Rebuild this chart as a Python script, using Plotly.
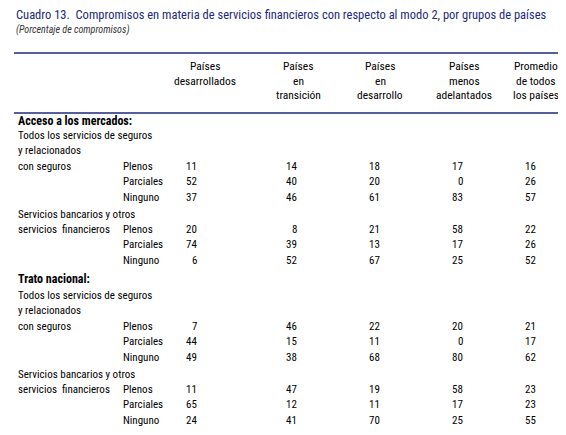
import plotly.graph_objects as go

title = "Cuadro 13.  Compromisos en materia de servicios financieros con respecto al modo 2, por grupos de países"
subtitle = "(Porcentaje de compromisos)"
headers = [["Países", "desarrollados"], ["Países", "en", "transición"], ["Países", "en", "desarrollo"],
           ["Países", "menos", "adelantados"], ["Promedio", "de todos", "los países"]]
levels = ["Plenos", "Parciales", "Ninguno"]
am_seguros = [[11, 14, 18, 17, 16], [52, 40, 20, 0, 26], [37, 46, 61, 83, 57]]
am_bancarios = [[20, 8, 21, 58, 22], [74, 39, 13, 17, 26], [6, 52, 67, 25, 52]]
tn_seguros = [[7, 46, 22, 20, 21], [44, 15, 11, 0, 17], [49, 38, 68, 80, 62]]
tn_bancarios = [[11, 47, 19, 58, 23], [65, 12, 11, 17, 23], [24, 41, 70, 25, 55]]

W, H = 566, 435
FONT = "Liberation Sans Narrow, Roboto Condensed, Liberation Sans, sans-serif"
BLUE = "#1d2a7a"
DY = -7
fig = go.Figure()
fig.update_xaxes(visible=False, range=[0, W])
fig.update_yaxes(visible=False, range=[H, 0])

def txt(x, y, s, anchor="left", size=11, color="black"):
    fig.add_annotation(x=x, y=y + DY, text=s, showarrow=False, xanchor=anchor, yanchor="middle",
                       font=dict(family=FONT, size=size, color=color), xref="x", yref="y")

def rule(y):
    fig.add_shape(type="line", x0=6, x1=W, y0=y, y1=y, line=dict(color=BLUE, width=1.3), xref="x", yref="y")

txt(6, 13, title, size=12.5, color=BLUE)
txt(6, 29, "<i>" + subtitle + "</i>", size=10, color="#333")
rule(45)
centers = [197, 290, 372, 456, 528]
for c, h in zip(centers, headers):
    for i, line in enumerate(h):
        txt(c, 65 + 14.5 * i, line, anchor="center", size=11.5)
rule(105)
numx = [191, 291, 374, 457, 530]

def block(y0, vals):
    for r, (lab, row) in enumerate(zip(levels, vals)):
        y = y0 + r * 15.5
        txt(113, y, lab)
        for x, v in zip(numx, row):
            txt(x, y, str(v), anchor="right")

txt(8, 120, "<b>Acceso a los mercados:</b>", size=12)
txt(8, 134, "Todos los servicios de seguros")
txt(8, 149, "y relacionados")
txt(8, 165, "con seguros")
block(165, am_seguros)
txt(8, 213, "Servicios bancarios y otros")
txt(8, 228, "servicios  financieros")
block(228, am_bancarios)
txt(8, 278, "<b>Trato nacional:</b>", size=12)
txt(8, 294, "Todos los servicios de seguros")
txt(8, 309, "y relacionados")
txt(8, 325, "con seguros")
block(325, tn_seguros)
txt(8, 373, "Servicios bancarios y otros")
txt(8, 388, "servicios  financieros")
block(388, tn_bancarios)
rule(428)

fig.update_layout(width=W, height=H, margin=dict(l=0, r=0, t=0, b=0),
                  plot_bgcolor="white", paper_bgcolor="white", showlegend=False)
fig.write_html("out.html")
